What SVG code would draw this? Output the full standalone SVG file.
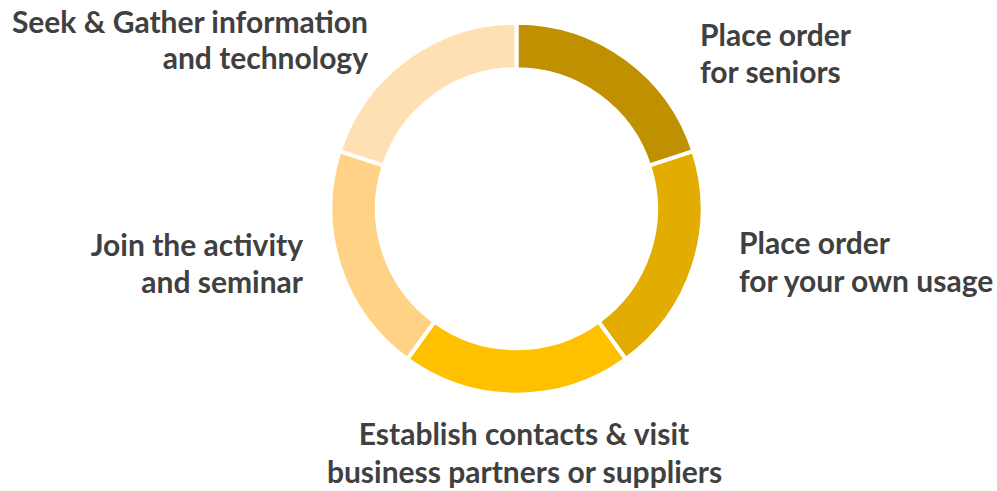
<svg xmlns="http://www.w3.org/2000/svg" width="997" height="491" viewBox="0 0 997 491">
<style>
.seg{stroke:#fff;stroke-width:4;stroke-linejoin:round}
.lbl{font-family:Lato,"Open Sans","Liberation Sans",sans-serif;font-weight:bold;font-size:30px;fill:#404040}
</style>
<rect width="997" height="491" fill="#fff"/>
<g id="ring">
<g id="seg1"><path class="seg" fill="#BF9000" d="M516.5,22.7 A186,186 0 0 1 693.4,151.2 L649.2,165.6 A139.5,139.5 0 0 0 516.5,69.2 Z"/></g>
<g id="seg2"><path class="seg" fill="#E2AC00" d="M693.4,151.2 A186,186 0 0 1 625.8,359.2 L598.5,321.6 A139.5,139.5 0 0 0 649.2,165.6 Z"/></g>
<g id="seg3"><path class="seg" fill="#FFC000" d="M625.8,359.2 A186,186 0 0 1 407.2,359.2 L434.5,321.6 A139.5,139.5 0 0 0 598.5,321.6 Z"/></g>
<g id="seg4"><path class="seg" fill="#FFD286" d="M407.2,359.2 A186,186 0 0 1 339.6,151.2 L383.8,165.6 A139.5,139.5 0 0 0 434.5,321.6 Z"/></g>
<g id="seg5"><path class="seg" fill="#FFE0B3" d="M339.6,151.2 A186,186 0 0 1 516.5,22.7 L516.5,69.2 A139.5,139.5 0 0 0 383.8,165.6 Z"/></g>
</g>
<g id="label-seek"><text class="lbl" text-anchor="end" x="368" y="32.5">Seek &amp; Gather information</text><text class="lbl" text-anchor="end" x="368" y="69.3">and technology</text></g>
<g id="label-seniors"><text class="lbl" x="700" y="46">Place order</text><text class="lbl" x="700" y="82.7">for seniors</text></g>
<g id="label-own"><text class="lbl" x="739" y="254.3">Place order</text><text class="lbl" x="739" y="291.7">for your own usage</text></g>
<g id="label-join"><text class="lbl" text-anchor="end" x="303" y="256">Join the activity</text><text class="lbl" text-anchor="end" x="303" y="292.7">and seminar</text></g>
<g id="label-establish"><text class="lbl" text-anchor="middle" x="524" y="445">Establish contacts &amp; visit</text><text class="lbl" text-anchor="middle" x="524.5" y="482.7">business partners or suppliers</text></g>
</svg>
